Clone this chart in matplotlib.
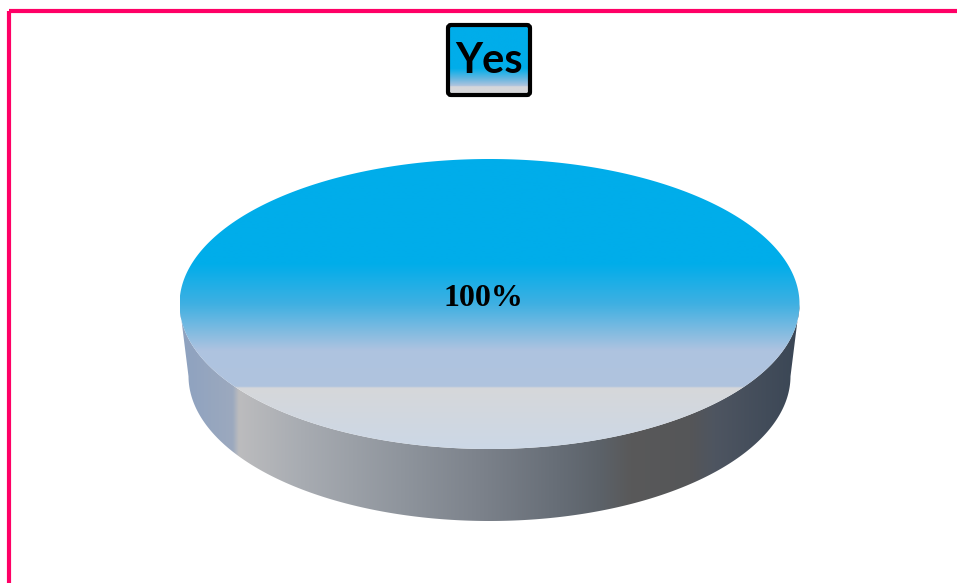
import numpy as np
import matplotlib
matplotlib.use("Agg")
import matplotlib.pyplot as plt
from matplotlib.patches import Polygon, Rectangle, FancyBboxPatch
from matplotlib.colors import to_rgb

# --- data ---
categories = ["Yes"]
values = [100]
value_labels = ["100%"]
title_text = "Yes"

W, H = 957, 583
fig = plt.figure(figsize=(W / 100, H / 100), dpi=100)
ax = fig.add_axes([0, 0, 1, 1])
ax.set_xlim(0, W)
ax.set_ylim(H, 0)
ax.axis("off")

# pie geometry (pixel space, y grows downward)
cx, cy = 489.5, 304.0
rx, ry = 310.0, 145.0
depth = 72.0
rx_b, ry_b = 301.0, 145.0

# gradient colour stops
top_stops = [(0.00, "#00ADEA"), (0.36, "#00ADEA"), (0.50, "#3FB0E2"),
             (0.66, "#AEC3E0"), (0.785, "#B0C4DE"), (0.79, "#D6D7DA"),
             (1.00, "#CCD8E6")]
side_stops = [(182, "#8EA2C0"), (232, "#9CA9BE"), (238, "#BCBCBE"),
              (300, "#A8ACB2"), (400, "#8F959D"), (480, "#7C828B"),
              (560, "#666D76"), (600, "#5C6269"), (630, "#59595A"),
              (690, "#555658"), (715, "#4E5561"), (800, "#3A4655")]


def ramp(stops, pos):
    p = np.array([s[0] for s in stops], dtype=float)
    c = np.array([to_rgb(s[1]) for s in stops])
    return np.stack([np.interp(pos, p, c[:, k]) for k in range(3)], axis=-1)


def vgrad(patch, x0, x1, y0, y1, stops, z):
    t = np.linspace(0, 1, 400)
    img = ramp(stops, t)[:, None, :]
    im = ax.imshow(img, extent=(x0, x1, y1, y0), aspect="auto",
                   interpolation="bilinear", zorder=z)
    im.set_clip_path(patch)


def hgrad(patch, x0, x1, y0, y1, stops, z):
    xs = np.linspace(x0, x1, 800)
    img = ramp(stops, xs)[None, :, :]
    im = ax.imshow(img, extent=(x0, x1, y1, y0), aspect="auto",
                   interpolation="bilinear", zorder=z)
    im.set_clip_path(patch)


# wedge angles from the values (clockwise from 12 o'clock)
fracs = np.array(values, dtype=float) / np.sum(values)
starts = np.concatenate([[0], np.cumsum(fracs)[:-1]]) * 2 * np.pi - np.pi / 2
ends = starts + fracs * 2 * np.pi

for a0, a1, frac, lab in zip(starts, ends, fracs, value_labels):
    t = np.linspace(a0, a1, 720)
    # side wall: the part of the arc facing the viewer (sin > 0 -> front)
    tf = t[np.sin(t) >= 0]
    if tf.size:
        top_arc = np.column_stack([cx + rx * np.cos(tf), cy + ry * np.sin(tf)])
        bot_arc = np.column_stack([cx + rx_b * np.cos(tf[::-1]),
                                   cy + depth + ry_b * np.sin(tf[::-1])])
        side = Polygon(np.vstack([top_arc, bot_arc]), closed=True,
                       facecolor="none", edgecolor="none")
        ax.add_patch(side)
        hgrad(side, cx - rx, cx + rx, cy, cy + depth + ry_b, side_stops, 2)

    # top face
    pts = np.column_stack([cx + rx * np.cos(t), cy + ry * np.sin(t)])
    if frac < 1:
        pts = np.vstack([[cx, cy], pts])
    top = Polygon(pts, closed=True, facecolor="none", edgecolor="none")
    ax.add_patch(top)
    vgrad(top, cx - rx, cx + rx, cy - ry, cy + ry, top_stops, 3)

    mid = (a0 + a1) / 2
    r_lab = 0 if frac == 1 else 0.6
    ax.text(cx - 6 + r_lab * rx * np.cos(mid), cy - 5 + r_lab * ry * np.sin(mid),
            lab, ha="center", va="center", fontsize=23, fontweight="bold",
            family="Liberation Serif", color="black", zorder=5)

# title box with gradient fill
bx0, bx1, by0, by1 = 448, 530, 25, 95
box = FancyBboxPatch((bx0, by0), bx1 - bx0, by1 - by0,
                     boxstyle="round,pad=0,rounding_size=3",
                     facecolor="none", edgecolor="black", linewidth=3.0,
                     zorder=7)
ax.add_patch(box)
clipbox = FancyBboxPatch((bx0, by0), bx1 - bx0, by1 - by0,
                         boxstyle="round,pad=0,rounding_size=3",
                         facecolor="none", edgecolor="none")
ax.add_patch(clipbox)
title_stops = [(0.0, "#00ADEA"), (0.62, "#00ADEA"), (0.78, "#6FB8E0"),
               (0.87, "#B0C4DE"), (0.88, "#D6D7DA"), (1.0, "#D6D7DA")]
vgrad(clipbox, bx0, bx1, by0, by1, title_stops, 6)
ax.text((bx0 + bx1) / 2, 61, title_text, ha="center", va="center",
        fontsize=30, fontweight="bold", family="Lato", color="black", zorder=8)

# outer frame
ax.add_patch(Rectangle((9, 11), 1000, 700, facecolor="none",
                       edgecolor="#FF0066", linewidth=3.0, zorder=10))

fig.savefig("out.png", dpi=100)
